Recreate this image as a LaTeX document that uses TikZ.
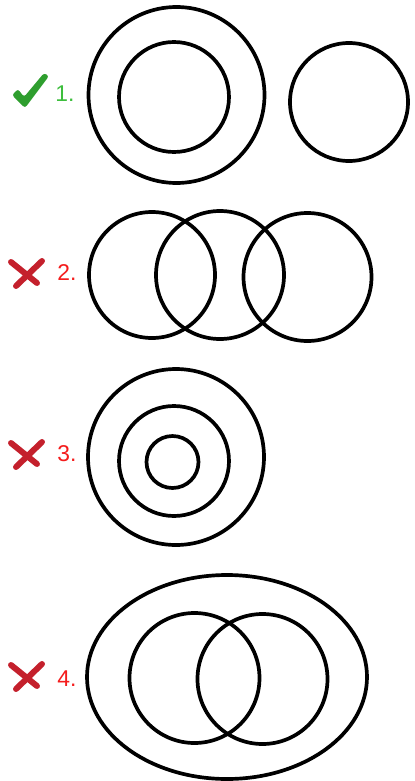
\documentclass[tikz,border=0pt]{standalone}
\usepackage{fontspec}
\setmainfont{Liberation Sans}
\definecolor{okgreen}{HTML}{3DBE3D}
\definecolor{tickgreen}{HTML}{2E9E2E}
\definecolor{badred}{HTML}{F41C1C}
\definecolor{xred}{HTML}{C4202C}

\begin{document}
\begin{tikzpicture}[x=0.02cm, y=-0.02cm,
    ring/.style={draw=black, line width=2.1pt},
    numlbl/.style={anchor=west, inner sep=0pt, font=\fontsize{13}{15}\selectfont},
    good/.style={numlbl, text=okgreen},
    bad/.style={numlbl, text=badred},
    cross/.style={draw=xred, line width=3.4pt, line cap=round}
  ]
    \useasboundingbox (0,0) rectangle (415,781);

    % 1. ring inside ring, one apart
    \fill[tickgreen, rounded corners=1.5pt] (12,95) -- (18,89) -- (24,97) -- (44,73)
      -- (49,76) -- (25,108) -- cycle;
    \node[good] (lbl1) at (55,94) {1.};
    \draw[ring] (176.5,95) circle (88);
    \draw[ring] (174,97) circle (55);
    \draw[ring] (349,102) circle (59);

    % 2. three in a row
    \node[bad] (lbl2) at (57,273) {2.};
    \draw[ring] (152,275) circle (63);
    \draw[ring] (220,275) circle (64);
    \draw[ring] (307.5,277) circle (64);

    % 3. three nested
    \node[bad] (lbl3) at (57,454) {3.};
    \draw[ring] (176,457) circle (88);
    \draw[ring] (174,461) circle (55);
    \draw[ring] (172.5,462) circle (26);

    % 4. two overlapping inside ellipse
    \node[bad] (lbl4) at (57,679) {4.};
    \draw[ring] (227,677) ellipse (140 and 102);
    \draw[ring] (194.5,678) circle (65);
    \draw[ring] (262.5,679) circle (65);

    \foreach \yy in {273,454,676}
      {
        \draw[cross] (11,\yy-11) -- (37,\yy+10);
        \draw[cross] (42,\yy-12) -- (16,\yy+13);
      }
  \end{tikzpicture}
\end{document}
